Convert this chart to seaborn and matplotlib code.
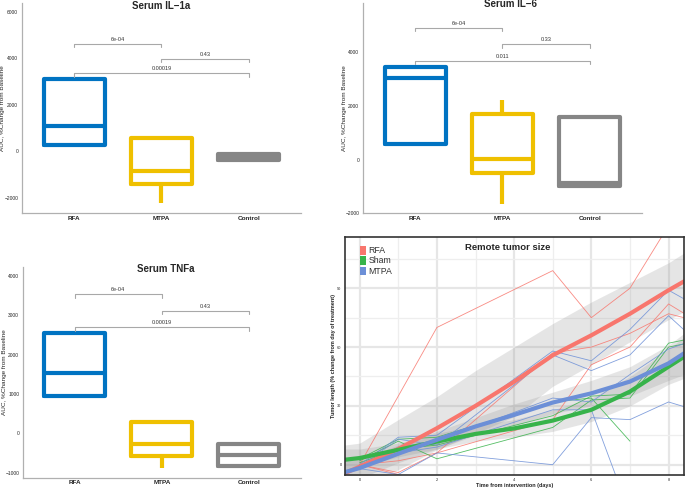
import numpy as np
import pandas as pd
import matplotlib.pyplot as plt
import seaborn as sns
from matplotlib.patches import Patch

sns.set_theme(style='white')
plt.rcParams['font.family'] = ['Liberation Sans', 'DejaVu Sans']

W, H = 685, 491

# ---- serum boxplots: five numbers per group (low whisker, q1, median, q3, high whisker)
groups = ['RFA', 'MTPA', 'Control']
box_colors = ['#0073C2', '#EFC000', '#868686']

il1a_rfa = [260, 260, 1085, 3090, 3090]
il1a_mtpa = [-2245, -1430, -860, 545, 615]
il1a_ctrl = [-385, -385, -250, -110, -110]

il6_rfa = [600, 600, 3030, 3460, 3460]
il6_mtpa = [-1670, -485, 40, 1690, 2215]
il6_ctrl = [-970, -970, -875, 1590, 1590]

tnf_rfa = [950, 950, 1527, 2545, 2545]
tnf_mtpa = [-890, -578, -272, 295, 295]
tnf_ctrl = [-832, -832, -552, -272, -272]

pairs = [(0, 1), (1, 2), (0, 2)]
il1a_pvals = ['6e-04', '0.43', '0.00019']
il1a_bracket_y = [4620, 3960, 3350]
il6_pvals = ['6e-04', '0.33', '0.011']
il6_bracket_y = [4920, 4300, 3690]
tnf_pvals = ['6e-04', '0.43', '0.00019']
tnf_bracket_y = [3537, 3120, 2697]

# ---- remote tumor size
days = [0, 1, 2, 5, 6, 7, 8, 9]
rfa_1 = [0, 35, 70, 99, 75, 90, 122, 140]
rfa_2 = [0, -4, 6, 23, 51, 60, 82, 70]
rfa_3 = [0, 2, 6, 57, 60, 67, 77, 72]
rfa_4 = [0, -5, -16, None, None, None, None, None]
sham_1 = [3, 13, 14, 32, 34, 12, None, None]
sham_2 = [2, 12, 3, 19, 33, 34, 60, 64]
sham_3 = [1, 8, 10, 25, 35, 36, 62, 66]
mtpa_1 = [0, 14, 15, 58, 53, 69, 89, 78]
mtpa_2 = [-1, 13, 10, 56, 48, 56, 76, 58]
mtpa_3 = [-2, 9, 12, 34, 32, 46, 59, 66]
mtpa_4 = [0, 6, 9, 28, 28, -25, None, None]
mtpa_5 = [-2, -5, 6, 0, 24, 23, 32, 26]

fit_days = [-0.4, 0, 1, 2, 3, 4, 5, 6, 7, 8, 8.4]
rfa_fit = [-4.5, -1, 8, 18.6, 30, 42.3, 55.8, 66, 77, 89, 93.5]
rfa_lo = [-15, -12, -2.5, 7.6, 16, 24.5, 40, 51, 62.7, 74, 78]
rfa_hi = [10, 11, 23, 34.7, 48, 60, 72, 83, 93, 103, 108]
sham_fit = [2.5, 3.4, 7.6, 11.8, 15.7, 18.5, 22.5, 28, 37.3, 50, 55]
sham_lo = [-3, -1, 4, 8, 12, 14, 17, 22, 30, 41, 44]
sham_hi = [8, 8, 11, 16, 20, 23, 28, 34, 45, 59, 65]
mtpa_fit = [-3.9, -1.7, 5.6, 12.7, 19.5, 25.4, 31.7, 36.4, 42.4, 51.7, 56.8]
mtpa_lo = [-10, -7, 1, 8, 15, 20, 26, 30, 35, 43, 46]
mtpa_hi = [2, 3, 10, 17, 24, 31, 37, 43, 50, 61, 67]

tumor_groups = ['RFA', 'Sham', 'MTPA']
tumor_colors = ['#F8766D', '#37B34A', '#6C8FD7']


def rect(l, t, r, b):
    return [l / W, 1 - b / H, (r - l) / W, (b - t) / H]


def serum_panel(ax, vals, pvals, br_y, ylim, yticks, title, title_xy, label_x):
    df = pd.DataFrame({'group': np.repeat(groups, 5),
                       'value': np.concatenate(vals)})
    sns.boxplot(ax=ax, data=df, x='group', y='value', hue='group', order=groups,
                hue_order=groups, palette=box_colors, fill=False, linewidth=3,
                width=0.7, showcaps=False, whis=(0, 100), legend=False)
    ax.set_xlim(-0.6, 2.6)
    ax.set_ylim(*ylim)
    ax.set_yticks(yticks)
    ax.set_xlabel(None)
    ax.set_ylabel('AUC, %Change from Baseline', fontsize=4.6)
    ax.yaxis.set_label_coords(label_x, 0.5)
    for s in ['top', 'right']:
        ax.spines[s].set_visible(False)
    for s in ['left', 'bottom']:
        ax.spines[s].set_color('#B0B0B0')
        ax.spines[s].set_linewidth(0.9)
    ax.tick_params(axis='y', labelsize=3.5, length=1.5, width=0.5, color='#888888', pad=1)
    ax.tick_params(axis='x', labelsize=4.6, length=0, pad=2)
    for lab in ax.get_xticklabels():
        lab.set_fontweight('bold')
    tick = 0.016 * (ylim[1] - ylim[0])
    for (a, b), p, y in zip(pairs, pvals, br_y):
        ax.plot([a, a, b, b], [y - tick, y, y, y - tick], color='#A8A8A8', lw=0.8)
        ax.annotate(p, ((a + b) / 2, y), xytext=(0, 1.5), textcoords='offset points',
                    ha='center', va='bottom', fontsize=4, color='#333333')
    ax.figure.text(title_xy[0] / W, 1 - title_xy[1] / H, title, ha='center', va='center',
                   fontsize=7, fontweight='bold')


fig = plt.figure(figsize=(W / 100, H / 100), dpi=100)

ax1 = fig.add_axes(rect(21.7, 2.7, 301, 213))
serum_panel(ax1, [il1a_rfa, il1a_mtpa, il1a_ctrl], il1a_pvals, il1a_bracket_y,
            (-2660, 6380), [-2000, 0, 2000, 4000, 6000], 'Serum IL\u22121a', (161, 6), -0.06)

ax2 = fig.add_axes(rect(362.7, 2.7, 642, 213.3))
serum_panel(ax2, [il6_rfa, il6_mtpa, il6_ctrl], il6_pvals, il6_bracket_y,
            (-2000, 5850), [-2000, 0, 2000, 4000], 'Serum IL\u22126', (510, 4), -0.056)

ax3 = fig.add_axes(rect(22.7, 266.7, 301, 477.7))
serum_panel(ax3, [tnf_rfa, tnf_mtpa, tnf_ctrl], tnf_pvals, tnf_bracket_y,
            (-1130, 4240), [-1000, 0, 1000, 2000, 3000, 4000], 'Serum TNFa', (166, 269), -0.056)

# ---- tumor panel
ax4 = fig.add_axes(rect(345, 237.3, 684, 474.5))
thin = {'RFA': [rfa_1, rfa_2, rfa_3, rfa_4],
        'Sham': [sham_1, sham_2, sham_3],
        'MTPA': [mtpa_1, mtpa_2, mtpa_3, mtpa_4, mtpa_5]}
rows = []
for g, lines in thin.items():
    for i, ln in enumerate(lines):
        for d, v in zip(days, ln):
            if v is not None:
                rows.append((g, f'{g}{i}', d, v))
thin_df = pd.DataFrame(rows, columns=['group', 'mouse', 'day', 'size'])

pal = dict(zip(tumor_groups, tumor_colors))
sns.lineplot(ax=ax4, data=thin_df, x='day', y='size', hue='group', units='mouse',
             estimator=None, palette=pal, lw=0.6, alpha=0.85, legend=False, sort=False)

fits = {'RFA': (rfa_fit, rfa_lo, rfa_hi), 'Sham': (sham_fit, sham_lo, sham_hi),
        'MTPA': (mtpa_fit, mtpa_lo, mtpa_hi)}
for g, (f, lo, hi) in fits.items():
    ax4.fill_between(fit_days, lo, hi, color='#9A9A9A', alpha=0.25, lw=0)
fit_df = pd.DataFrame([(g, d, v) for g, (f, lo, hi) in fits.items() for d, v in zip(fit_days, f)],
                      columns=['group', 'day', 'size'])
sns.lineplot(ax=ax4, data=fit_df, x='day', y='size', hue='group', palette=pal,
             lw=3, legend=False)

ax4.set_xlim(-0.38, 8.4)
ax4.set_ylim(-5, 116)
ax4.set_xticks([0, 2, 4, 6, 8])
ax4.set_xticks([1, 3, 5, 7], minor=True)
ax4.set_yticks([0, 30, 60, 90])
ax4.set_yticks([15, 45, 75, 105], minor=True)
ax4.set_axisbelow(True)
ax4.grid(which='major', color='#E6E6E6', lw=1.6)
ax4.grid(which='minor', color='#EEEEEE', lw=0.9)
ax4.tick_params(which='major', labelsize=2.8, length=1.5, width=0.8, color='#333333', pad=1)
ax4.tick_params(which='minor', length=0)
for s in ax4.spines.values():
    s.set_color('#333333')
    s.set_linewidth(1.2)
ax4.set_xlabel('Time from intervention (days)', fontsize=4, fontweight='bold', labelpad=1)
ax4.set_ylabel('Tumor length (% change from day of treatment)', fontsize=4,
               fontweight='bold')
ax4.yaxis.set_label_coords(-0.027, 0.5)
ax4.text(0.48, 0.955, 'Remote tumor size', transform=ax4.transAxes, ha='center',
         va='center', fontsize=6.8, fontweight='bold')
handles = [Patch(facecolor=c, edgecolor='none', label=g) for g, c in zip(tumor_groups, tumor_colors)]
ax4.legend(handles=handles, loc='upper left', bbox_to_anchor=(0.035, 0.98), frameon=False,
           fontsize=6.3, handlelength=0.6, handleheight=1.2, handletextpad=0.3,
           labelspacing=0.12, borderaxespad=0, labelcolor='#333333')

fig.savefig('out.png', dpi=100)
